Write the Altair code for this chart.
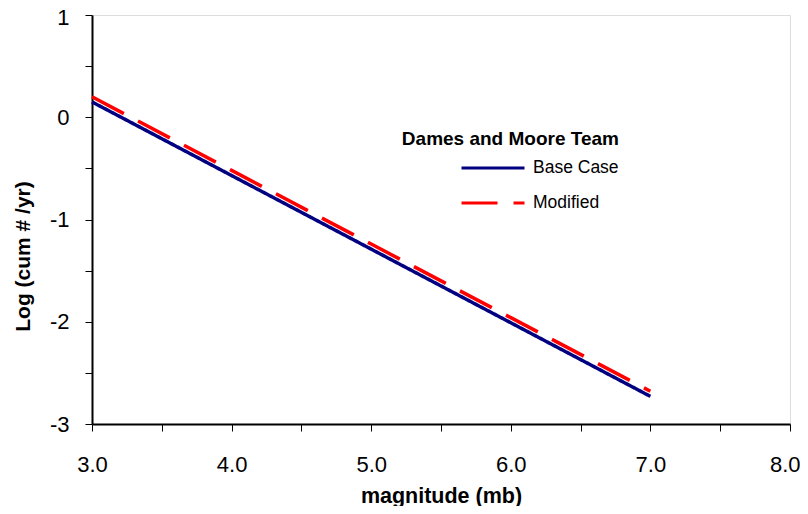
import altair as alt
import pandas as pd

magnitude = [3.0, 4.0, 5.0, 6.0, 7.0]
base_case = [0.15, -0.57, -1.29, -2.01, -2.73]
modified = [0.20, -0.52, -1.24, -1.96, -2.68]
series_names = ["Base Case", "Modified"]
series_colors = ["#000080", "#FF0000"]
x_ticks = [3.0, 3.5, 4.0, 4.5, 5.0, 5.5, 6.0, 6.5, 7.0, 7.5, 8.0]
y_ticks = [-3.0, -2.5, -2.0, -1.5, -1.0, -0.5, 0.0, 0.5, 1.0]

rows = []
for name, vals in zip(series_names, [base_case, modified]):
    for m, v in zip(magnitude, vals):
        rows.append({"magnitude": m, "value": v, "series": name})
df = pd.DataFrame(rows)

FONT = "Liberation Sans"

legend = alt.Legend(
    title="Dames and Moore Team",
    orient="none",
    legendX=310,
    legendY=115,
    titleAnchor="end",
    titleFont=FONT,
    titleFontSize=19,
    titleFontWeight="bold",
    titleColor="black",
    titleLimit=400,
    titlePadding=9,
    labelFont=FONT,
    labelFontSize=17.5,
    labelColor="black",
    labelOffset=7,
    labelLimit=300,
    symbolType="stroke",
    symbolSize=3969,
    symbolStrokeWidth=3,
    symbolDash=alt.ExprRef("datum.value === 'Modified' ? [20, 10] : [1, 0]"),
    clipHeight=20,
    rowPadding=15,
)

chart = (
    alt.Chart(df)
    .mark_line(strokeWidth=3.5)
    .encode(
        x=alt.X(
            "magnitude:Q",
            scale=alt.Scale(domain=[3, 8], nice=False, zero=False),
            axis=alt.Axis(
                values=x_ticks,
                labelExpr="datum.value % 1 === 0 ? format(datum.value, '.1f') : ''",
                labelAlign=alt.ExprRef("datum.value === 8 ? 'right' : 'center'"),
                labelOffset=alt.ExprRef("datum.value === 8 ? 10 : 0"),
                title="magnitude (mb)",
                titleX=349,
                titleY=78,
                titleBaseline="alphabetic",
                titleFont=FONT,
                titleFontSize=21.5,
                titleFontWeight="bold",
                titleColor="black",
                labelFont=FONT,
                labelFontSize=22,
                labelColor="black",
                labelPadding=23,
                tickSize=7,
                tickColor="black",
                domainColor="black",
                domainWidth=2,
                grid=False,
                labelFlush=False,
                labelOverlap=False,
            ),
        ),
        y=alt.Y(
            "value:Q",
            scale=alt.Scale(domain=[-3, 1], nice=False, zero=False),
            axis=alt.Axis(
                values=y_ticks,
                labelExpr="datum.value % 1 === 0 ? '' + datum.value : ''",
                labelOffset=alt.ExprRef("datum.value === 1 ? 2 : 0"),
                title="Log (cum # /yr)",
                titleX=-69,
                titleY=241,
                titleAngle=270,
                titleAlign="center",
                titleBaseline="middle",
                titleFont=FONT,
                titleFontSize=21,
                titleFontWeight="bold",
                titleColor="black",
                labelFont=FONT,
                labelFontSize=22,
                labelColor="black",
                labelPadding=16,
                tickSize=7,
                tickColor="black",
                domainColor="black",
                domainWidth=2,
                grid=False,
                labelFlush=False,
                labelOverlap=False,
            ),
        ),
        color=alt.Color(
            "series:N",
            scale=alt.Scale(domain=series_names, range=series_colors),
            legend=legend,
        ),
        strokeDash=alt.StrokeDash(
            "series:N",
            scale=alt.Scale(domain=series_names, range=[[1, 0], [36, 16]]),
            legend=None,
        ),
    )
    .properties(
        width=698,
        height=409,
        autosize=alt.AutoSizeParams(type="none"),
        padding={"left": 84, "top": 7, "right": 10, "bottom": 82},
    )
    .configure_view(stroke="black", strokeWidth=2)
    .configure(background="white")
)

chart.save("out.html", embed_options={"renderer": "svg", "actions": False})
